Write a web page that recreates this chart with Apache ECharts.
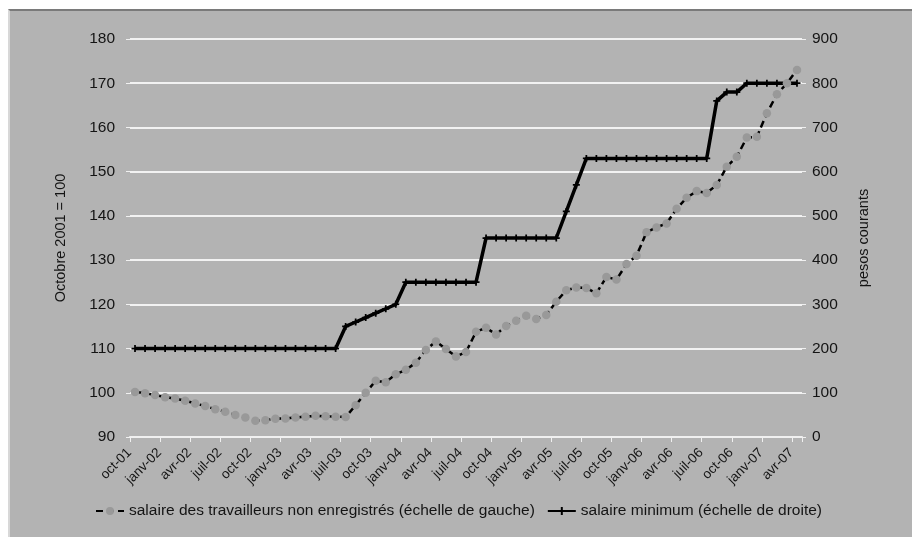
<!DOCTYPE html>
<html>
<head>
<meta charset="utf-8">
<script src="https://cdn.jsdelivr.net/npm/echarts@6/dist/echarts.min.js"></script>
<style>
html,body{margin:0;padding:0;background:#fff;width:912px;height:537px;overflow:hidden;}
#frame{position:absolute;left:8px;top:9px;width:904px;height:528px;background:#b3b3b3;border-top:2px solid #7a7a7a;border-left:2px solid #d8d8d8;box-sizing:border-box;}
#chart{position:absolute;left:0;top:0;width:912px;height:537px;}
</style>
</head>
<body>
<div id="frame"></div>
<div id="chart"></div>
<script>
const categories = [
 'oct-01','nov-01','déc-01',
 'janv-02','févr-02','mars-02','avr-02','mai-02','juin-02','juil-02','août-02','sept-02','oct-02','nov-02','déc-02',
 'janv-03','févr-03','mars-03','avr-03','mai-03','juin-03','juil-03','août-03','sept-03','oct-03','nov-03','déc-03',
 'janv-04','févr-04','mars-04','avr-04','mai-04','juin-04','juil-04','août-04','sept-04','oct-04','nov-04','déc-04',
 'janv-05','févr-05','mars-05','avr-05','mai-05','juin-05','juil-05','août-05','sept-05','oct-05','nov-05','déc-05',
 'janv-06','févr-06','mars-06','avr-06','mai-06','juin-06','juil-06','août-06','sept-06','oct-06','nov-06','déc-06',
 'janv-07','févr-07','mars-07','avr-07'
];
const nonRegistered = [
 100.2, 99.9, 99.5, 99.0, 98.7, 98.2, 97.6, 97.0, 96.3, 95.7,
 95.0, 94.4, 93.7, 93.8, 94.1, 94.2, 94.4, 94.6, 94.8, 94.7,
 94.6, 94.5, 97.2, 100.0, 102.7, 102.4, 104.2, 105.2, 106.8, 109.7,
 111.6, 109.9, 108.2, 109.2, 113.8, 114.7, 113.2, 115.1, 116.3, 117.4,
 116.7, 117.6, 120.6, 123.2, 123.8, 123.7, 122.5, 126.2, 125.6, 129.1,
 131.0, 136.3, 137.4, 138.3, 141.6, 144.1, 145.6, 145.2, 147.0, 151.1,
 153.4, 157.7, 157.9, 163.2, 167.5, 170.0, 173.0
];
const minimumWage = [
 200,200,200,200,200,200,200,200,200,200,
 200,200,200,200,200,200,200,200,200,200,
 200,250,260,270,280,290,300,350,350,350,
 350,350,350,350,350,450,450,450,450,450,
 450,450,450,510,570,630,630,630,630,630,
 630,630,630,630,630,630,630,630,760,780,
 780,800,800,800,800,800,800
];
const leftTicks = {min: 90, max: 180, interval: 10};
const rightTicks = {min: 0, max: 900, interval: 100};
const seriesNames = ['salaire des travailleurs non enregistrés (échelle de gauche)', 'salaire minimum (échelle de droite)'];

const chart = echarts.init(document.getElementById('chart'));
const txt = '#141414';
const font = 'Liberation Sans, Arial, sans-serif';
chart.setOption({
  backgroundColor: 'transparent',
  animation: false,
  textStyle: {fontFamily: font},
  grid: {left: 130, right: 110, top: 39, bottom: 100, containLabel: false},
  legend: {
    bottom: 13, left: 90, itemGap: 12, itemWidth: 28, itemHeight: 10,
    textStyle: {fontSize: 15.5, color: txt, fontFamily: font},
    data: [seriesNames[0], seriesNames[1]]
  },
  xAxis: {
    type: 'category', data: categories, boundaryGap: true,
    axisLine: {show: true, lineStyle: {color: '#f0f0f0', width: 2}},
    axisTick: {show: true, interval: 2, length: 5, lineStyle: {color: '#f0f0f0', width: 1}},
    axisLabel: {interval: 2, rotate: 45, fontSize: 13.5, color: txt, margin: 8, padding: [0, 8, 0, 0], fontFamily: font},
    splitLine: {show: false}
  },
  yAxis: [
    {
      type: 'value', position: 'left', min: leftTicks.min, max: leftTicks.max, interval: leftTicks.interval,
      name: 'Octobre 2001 = 100', nameLocation: 'middle', nameGap: 62, nameRotate: 90,
      nameTextStyle: {fontSize: 14.5, color: txt, fontFamily: font},
      axisLine: {show: false},
      axisTick: {show: true, length: 4, lineStyle: {color: '#f0f0f0'}},
      axisLabel: {fontSize: 15.5, color: txt, margin: 15, fontFamily: font},
      splitLine: {show: true, lineStyle: {color: '#f2f2f2', width: 2}}
    },
    {
      type: 'value', position: 'right', min: rightTicks.min, max: rightTicks.max, interval: rightTicks.interval,
      name: 'pesos courants', nameLocation: 'middle', nameGap: 54, nameRotate: 90,
      nameTextStyle: {fontSize: 14.5, color: txt, fontFamily: font},
      axisLine: {show: false},
      axisTick: {show: true, length: 4, lineStyle: {color: '#f0f0f0'}},
      axisLabel: {fontSize: 15.5, color: txt, margin: 10, fontFamily: font},
      splitLine: {show: false}
    }
  ],
  series: [
    {
      name: seriesNames[1], type: 'line', yAxisIndex: 1, data: minimumWage,
      symbol: 'path://M-1,-4L1,-4L1,-1L4,-1L4,1L1,1L1,4L-1,4L-1,1L-4,1L-4,-1L-1,-1Z',
      symbolSize: 7, showAllSymbol: true,
      lineStyle: {color: '#000', width: 3.5, type: 'solid'},
      itemStyle: {color: '#000'}, z: 2
    },
    {
      name: seriesNames[0], type: 'line', yAxisIndex: 0, data: nonRegistered,
      symbol: 'circle', symbolSize: 8.5, showAllSymbol: true,
      lineStyle: {color: '#000', width: 2.5, type: [7, 4]},
      itemStyle: {color: '#999999', borderWidth: 0}, z: 3
    }
  ]
});
</script>
</body>
</html>
